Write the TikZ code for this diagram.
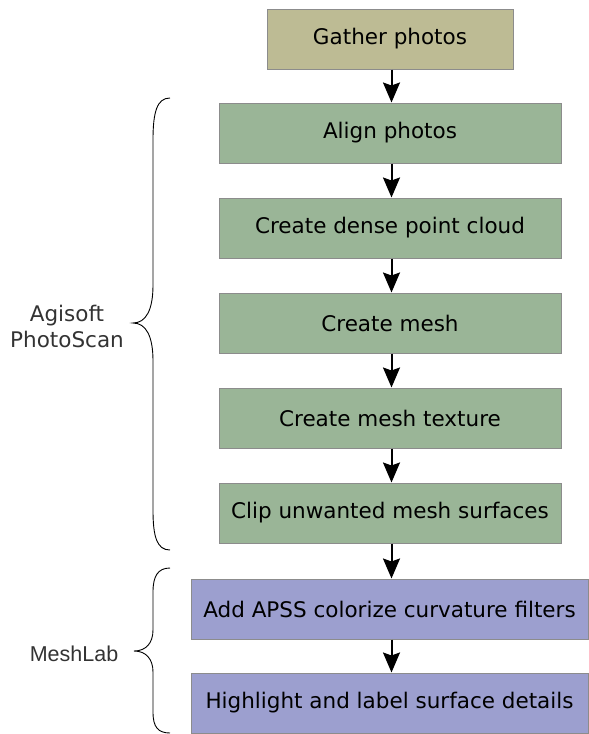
\documentclass[tikz,border=0pt]{standalone}
\usepackage{fontspec}
\setmainfont{DejaVu Sans}
\newfontfamily\arialf{Liberation Sans}
\usetikzlibrary{arrows.meta}
\definecolor{tanfill}{HTML}{BDBB94}
\definecolor{greenfill}{HTML}{9AB597}
\definecolor{purplefill}{HTML}{9C9FCF}
\definecolor{boxline}{HTML}{8C8C8C}
\definecolor{labeltext}{HTML}{333333}
\tikzset{
  stepbox/.style={draw=boxline, line width=1pt, minimum height=60pt, inner sep=0pt,
    font=\fontsize{21.5}{26}\selectfont, text=black},
  tanbox/.style={stepbox, fill=tanfill, minimum width=246pt},
  greenbox/.style={stepbox, fill=greenfill, minimum width=342pt},
  purplebox/.style={stepbox, fill=purplefill, minimum width=397pt},
  conn/.style={draw=black, line width=2pt, -{Stealth[length=20pt,width=17pt,inset=3pt]}},
  brace/.style={draw=black, line width=0.9pt},
  grouplabel/.style={text=labeltext, align=center, font=\fontsize{21.5}{26}\selectfont},
}
\begin{document}
\begin{tikzpicture}[x=1pt,y=-1pt]
\useasboundingbox (0,0) rectangle (589,734);
\node[tanbox] (gather) at (390,39) {Gather photos};
\node[greenbox] (align) at (390,133) {Align photos};
\node[greenbox] (dense) at (390,228) {Create dense point cloud};
\node[greenbox] (mesh) at (390,323) {Create mesh};
\node[greenbox] (texture) at (390,418) {Create mesh texture};
\node[greenbox] (clip) at (390,513) {Clip unwanted mesh surfaces};
\node[purplebox] (apss) at (389.5,609) {Add APSS colorize curvature filters};
\node[purplebox] (highlight) at (389.5,703) {Highlight and label surface details};

\draw[conn] ([xshift=1.5pt]gather.south) -- ([xshift=1.5pt]gather.south |- align.north);
\draw[conn] ([xshift=1.5pt]align.south) -- ([xshift=1.5pt]align.south |- dense.north);
\draw[conn] ([xshift=1.5pt]dense.south) -- ([xshift=1.5pt]dense.south |- mesh.north);
\draw[conn] ([xshift=1.5pt]mesh.south) -- ([xshift=1.5pt]mesh.south |- texture.north);
\draw[conn] ([xshift=1.5pt]texture.south) -- ([xshift=1.5pt]texture.south |- clip.north);
\draw[conn] ([xshift=1.5pt]clip.south) -- ([xshift=1.5pt]clip.south |- apss.north);
\draw[conn] ([xshift=1.5pt]clip.south |- apss.south) -- ([xshift=1.5pt]clip.south |- highlight.north);

% braces
\draw[brace] (170,98) .. controls (157,98) and (153,112) .. (153,140)
  -- (153,285) .. controls (153,310) and (146,323) .. (133,323)
  .. controls (146,323) and (153,336) .. (153,361)
  -- (153,510) .. controls (153,537) and (157,550) .. (170,550);
\draw[brace] (170,568) .. controls (158,568) and (153,576) .. (153,592)
  -- (153,630) .. controls (153,643) and (146,651) .. (134,651)
  .. controls (146,651) and (153,659) .. (153,672)
  -- (153,712) .. controls (153,727) and (158,733) .. (170,733);

\node[grouplabel] (agisoft) at (67,326) {Agisoft\\PhotoScan};
\node[grouplabel, font=\arialf\fontsize{21.5}{26}\selectfont] (meshlab) at (74,654) {MeshLab};
\end{tikzpicture}
\end{document}
